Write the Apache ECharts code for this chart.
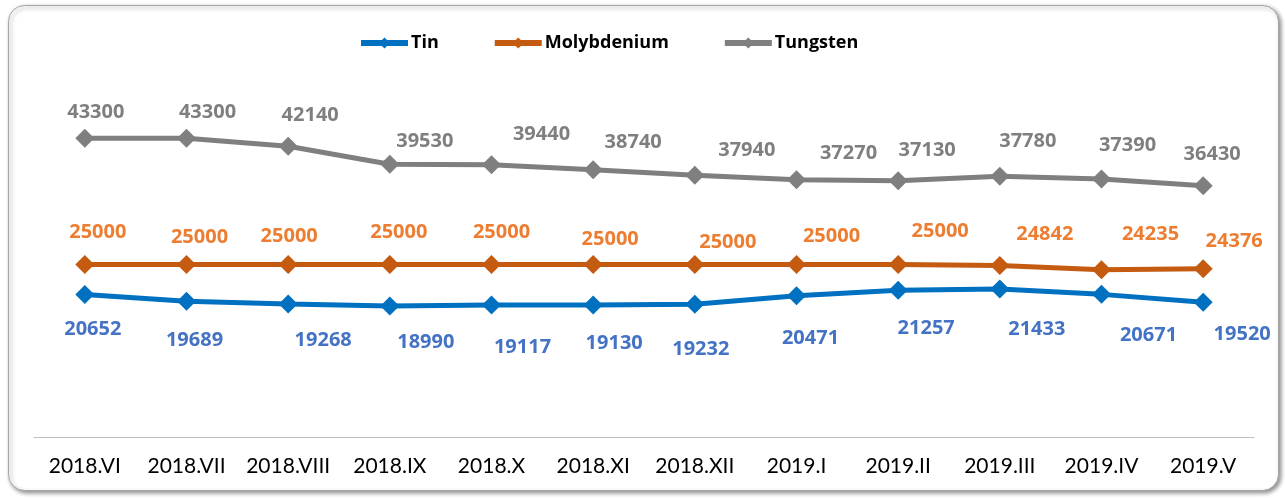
<!DOCTYPE html>
<html>
<head>
<meta charset="utf-8">
<script src="https://cdn.jsdelivr.net/npm/echarts@6/dist/echarts.min.js"></script>
<style>
  html, body { margin: 0; padding: 0; background: #fff; }
  #chart { width: 1285px; height: 498px; }
</style>
</head>
<body>
<div id="chart"></div>
<script>
// ── data ──
const months = ["2018.VI", "2018.VII", "2018.VIII", "2018.IX", "2018.X", "2018.XI",
  "2018.XII", "2019.I", "2019.II", "2019.III", "2019.IV", "2019.V"];
const tin = [20652, 19689, 19268, 18990, 19117, 19130, 19232, 20471, 21257, 21433, 20671, 19520];
const molybdenium = [25000, 25000, 25000, 25000, 25000, 25000, 25000, 25000, 25000, 24842, 24235, 24376];
const tungsten = [43300, 43300, 42140, 39530, 39440, 38740, 37940, 37270, 37130, 37780, 37390, 36430];

// label nudges (px from the point) — the original has hand-placed labels
const tinNudge = [[8, 35], [8, 39], [35, 36], [36, 36], [31, 42], [21, 38], [6, 45], [14, 43], [28, 38], [37, 40], [47, 41], [39, 32]];
const moNudge = [[13, -32], [13, -27], [1, -28], [9, -32], [10, -32], [17, -25], [33, -22], [35, -28], [42, -33], [45, -31], [49, -35], [31, -28]];
const wNudge = [[11, -26], [21, -26], [22, -31], [35, -23], [50, -31], [40, -27], [52, -25], [52, -27], [29, -31], [28, -35], [26, -34], [9, -31]];

const FONT = "'Open Sans', sans-serif";

function withLabels(values, nudge) {
  return values.map((v, i) => ({ value: v, label: { offset: nudge[i] } }));
}

function lineSeries(name, values, nudge, color, labelColor) {
  return {
    name, type: "line", data: withLabels(values, nudge),
    symbol: "diamond", symbolSize: 19,
    lineStyle: { color, width: 5 },
    itemStyle: { color },
    label: {
      show: true, position: "inside", color: labelColor,
      fontFamily: FONT, fontWeight: "bold", fontSize: 20,
    },
    emphasis: { disabled: true },
    z: 3,
  };
}

const chart = echarts.init(document.getElementById("chart"), null, { renderer: "canvas" });
chart.setOption({
  backgroundColor: "#fff",
  animation: false,
  graphic: [{
    type: "rect", left: 8, top: 5,
    shape: { width: 1270, height: 485, r: 16 },
    style: {
      fill: "#fff", stroke: "#a6a6a6", lineWidth: 1,
      shadowBlur: 4, shadowOffsetX: 2, shadowOffsetY: 2, shadowColor: "rgba(0,0,0,0.45)",
    },
    z: -10,
  }],
  legend: {
    top: 29, left: 353, itemGap: 53, itemWidth: 47, itemHeight: 14,
    lineStyle: { width: 6 },
    textStyle: { fontFamily: FONT, fontWeight: "bold", fontSize: 18, color: "#000", padding: [0, 0, 0, -2] },
    data: ["Tin", "Molybdenium", "Tungsten"],
  },
  grid: { left: 34, right: 31, top: 92, bottom: 61, containLabel: false },
  xAxis: {
    type: "category", data: months, boundaryGap: true,
    axisLine: { lineStyle: { color: "#bfbfbf", width: 1 } },
    axisTick: { show: false },
    axisLabel: { color: "#000", fontFamily: "Lato, sans-serif", fontSize: 21, margin: 19, interval: 0 },
  },
  yAxis: {
    type: "value", min: 0, max: 50000, show: false,
    splitLine: { show: false },
  },
  series: [
    lineSeries("Tin", tin, tinNudge, "#0070C0", "#4472C4"),
    lineSeries("Molybdenium", molybdenium, moNudge, "#C55A11", "#ED7D31"),
    lineSeries("Tungsten", tungsten, wNudge, "#7F7F7F", "#7F7F7F"),
  ],
});
</script>
</body>
</html>
